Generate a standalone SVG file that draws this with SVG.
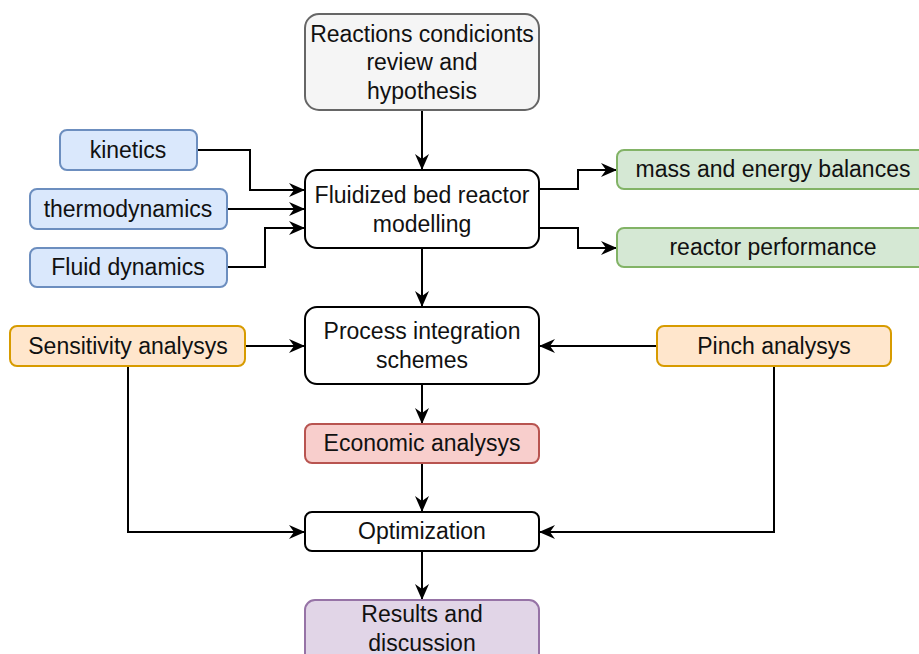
<svg xmlns="http://www.w3.org/2000/svg" width="919" height="654" viewBox="0 0 919 654">
<style>
text{font-family:"Liberation Sans",Arial,sans-serif;font-size:23px;fill:#111;text-anchor:middle;dominant-baseline:central}
.c{fill:none;stroke:#000;stroke-width:2}
.w{fill:#fff;stroke:#000;stroke-width:2}
.g{fill:#f5f5f5;stroke:#666;stroke-width:2}
.b{fill:#dae8fc;stroke:#6c8ebf;stroke-width:2}
.gr{fill:#d5e8d4;stroke:#82b366;stroke-width:2}
.o{fill:#ffe6cc;stroke:#d79b00;stroke-width:2}
.r{fill:#f8cecc;stroke:#b85450;stroke-width:2}
.p{fill:#e1d5e7;stroke:#9673a6;stroke-width:2}
</style>
<defs>
<marker id="a" viewBox="0 0 16 14" refX="15" refY="7" markerWidth="16" markerHeight="14" markerUnits="userSpaceOnUse" orient="auto">
<path d="M0,0 L16,7 L0,14 L5,7 Z" fill="#000"/>
</marker>
</defs>
<rect width="919" height="654" fill="#fff"/>
<g id="connectors">
<path class="c" marker-end="url(#a)" d="M422,110 V169"/>
<path class="c" marker-end="url(#a)" d="M197,150 H250 V190 H304"/>
<path class="c" marker-end="url(#a)" d="M227,209 H304"/>
<path class="c" marker-end="url(#a)" d="M227,267 H265 V228 H304"/>
<path class="c" marker-end="url(#a)" d="M539,189 H578 V170 H616"/>
<path class="c" marker-end="url(#a)" d="M539,228 H578 V248 H616"/>
<path class="c" marker-end="url(#a)" d="M422,248 V306"/>
<path class="c" marker-end="url(#a)" d="M245,346 H304"/>
<path class="c" marker-end="url(#a)" d="M657,346 H540"/>
<path class="c" marker-end="url(#a)" d="M422,384 V423"/>
<path class="c" marker-end="url(#a)" d="M422,463 V511"/>
<path class="c" marker-end="url(#a)" d="M128,366 V532 H304"/>
<path class="c" marker-end="url(#a)" d="M774,366 V532 H540"/>
<path class="c" marker-end="url(#a)" d="M422,551 V599"/>
</g>
<g id="n-review"><rect class="g" x="305" y="14" width="234" height="96" rx="14"/><text x="422" y="34">Reactions condicionts</text><text x="422" y="62">review and</text><text x="422" y="91">hypothesis</text></g>
<g id="n-kinetics"><rect class="b" x="60" y="130" width="137" height="40" rx="7"/><text x="128" y="150">kinetics</text></g>
<g id="n-thermo"><rect class="b" x="30" y="189" width="197" height="40" rx="7"/><text x="128" y="209">thermodynamics</text></g>
<g id="n-fluid"><rect class="b" x="30" y="248" width="197" height="39" rx="7"/><text x="128" y="267">Fluid dynamics</text></g>
<g id="n-fbr"><rect class="w" x="305" y="170" width="234" height="78" rx="12"/><text x="422" y="195">Fluidized bed reactor</text><text x="422" y="224">modelling</text></g>
<g id="n-mass"><rect class="gr" x="617" y="150" width="310" height="39" rx="7"/><text x="773" y="169">mass and energy balances</text></g>
<g id="n-perf"><rect class="gr" x="617" y="228" width="310" height="39" rx="7"/><text x="773" y="247">reactor performance</text></g>
<g id="n-process"><rect class="w" x="305" y="307" width="234" height="77" rx="12"/><text x="422" y="331">Process integration</text><text x="422" y="360">schemes</text></g>
<g id="n-sens"><rect class="o" x="10" y="326" width="235" height="40" rx="7"/><text x="128" y="346">Sensitivity analysys</text></g>
<g id="n-pinch"><rect class="o" x="657" y="326" width="234" height="40" rx="7"/><text x="774" y="346">Pinch analysys</text></g>
<g id="n-econ"><rect class="r" x="305" y="424" width="234" height="39" rx="7"/><text x="422" y="443">Economic analysys</text></g>
<g id="n-opt"><rect class="w" x="305" y="512" width="234" height="39" rx="7"/><text x="422" y="531">Optimization</text></g>
<g id="n-results"><rect class="p" x="305" y="600" width="234" height="70" rx="10"/><text x="422" y="614">Results and</text><text x="422" y="643">discussion</text></g>
</svg>
